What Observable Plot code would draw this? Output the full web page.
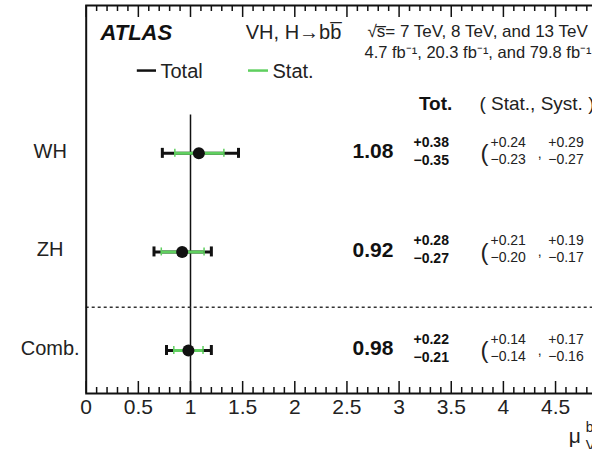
<!DOCTYPE html>
<html><head><meta charset="utf-8">
<script src="https://cdn.jsdelivr.net/npm/d3@7"></script>
<script src="https://cdn.jsdelivr.net/npm/@observablehq/plot@0.6"></script>
<style>html,body{margin:0;padding:0;overflow:hidden;background:#fff}</style>
</head><body><div id="chart"></div>
<script>
// ---- data ----
const categories = ["WH", "ZH", "Comb."];
const mu     = [1.08, 0.92, 0.98];
const totUp  = [0.38, 0.28, 0.22];
const totDn  = [0.35, 0.27, 0.21];
const statUp = [0.24, 0.21, 0.14];
const statDn = [0.23, 0.20, 0.14];
const systUp = [0.29, 0.19, 0.17];
const systDn = [0.27, 0.17, 0.16];
const xTickLabels = [0, 0.5, 1, 1.5, 2, 2.5, 3, 3.5, 4, 4.5];
const xMajorTicks = [0, 0.5, 1, 1.5, 2, 2.5, 3, 3.5, 4, 4.5, 5];

const rows = categories.map((c, i) => ({
  cat: c, pos: categories.length - 1 - i, mu: mu[i],
  tu: totUp[i], td: totDn[i], su: statUp[i], sd: statDn[i], yu: systUp[i], yd: systDn[i]
}));
const fmt = v => v.toFixed(2);
const minus = v => "\u2212" + fmt(v);
const plus = v => "+" + fmt(v);

const W = 640, H = 449, mL = 85.7, mR = 32.8, mT = 5, mB = 56;
const plotH = H - mT - mB;
const yLo = -0.436, yHi = 3.5;
const minor = d3.range(0, 51).map(i => i / 10).filter(v => Math.abs(v * 2 - Math.round(v * 2)) > 1e-6);
const major = xMajorTicks;
const green = "#5fcf5f";
const ink = "#111";
const font = "'Liberation Sans', Arial, Helvetica, sans-serif";
const la = "middle";

const chart = Plot.plot({
  width: W, height: H,
  marginLeft: mL, marginRight: mR, marginTop: mT, marginBottom: mB,
  x: {domain: [0, 5], axis: null},
  y: {domain: [yLo, yHi], axis: null},
  style: {fontFamily: font, color: ink, background: "#fff", overflow: "visible", maxWidth: "none"},
  marks: [
    // reference line at mu = 1
    Plot.ruleX([1], {y1: yLo, y2: 2.39, stroke: ink, strokeWidth: 1.5}),
    // separator
    Plot.ruleY([0.44], {stroke: "#333", strokeWidth: 1.5, strokeDasharray: "3,3"}),
    // total error bars
    Plot.ruleY(rows, {y: "pos", x1: d => d.mu - d.td, x2: d => d.mu + d.tu, stroke: ink, strokeWidth: 3}),
    Plot.ruleX(rows, {x: d => d.mu - d.td, y1: "pos", y2: "pos", insetTop: -5, insetBottom: -5, stroke: ink, strokeWidth: 3}),
    Plot.ruleX(rows, {x: d => d.mu + d.tu, y1: "pos", y2: "pos", insetTop: -5, insetBottom: -5, stroke: ink, strokeWidth: 3}),
    // stat error bars
    Plot.ruleY(rows, {y: "pos", x1: d => d.mu - d.sd, x2: d => d.mu + d.su, stroke: green, strokeWidth: 3}),
    Plot.ruleX(rows, {x: d => d.mu - d.sd, y1: "pos", y2: "pos", insetTop: -4, insetBottom: -4, stroke: green, strokeWidth: 1.5}),
    Plot.ruleX(rows, {x: d => d.mu + d.su, y1: "pos", y2: "pos", insetTop: -4, insetBottom: -4, stroke: green, strokeWidth: 1.5}),
    // central values
    Plot.dot(rows, {x: "mu", y: "pos", r: 6, fill: ink, stroke: "none"}),
    // frame and ticks
    Plot.frame({stroke: ink, strokeWidth: 2}),
    Plot.ruleX(minor, {x: d => d, insetTop: plotH - 6, stroke: ink, strokeWidth: 1.5}),
    Plot.ruleX(major, {x: d => d, insetTop: plotH - 12, stroke: ink, strokeWidth: 1.5}),
    Plot.ruleX(minor, {x: d => d, insetBottom: plotH - 6, stroke: ink, strokeWidth: 1.5}),
    Plot.ruleX(major, {x: d => d, insetBottom: plotH - 12, stroke: ink, strokeWidth: 1.5}),
    Plot.text(xTickLabels, {x: d => d, text: d => String(d), frameAnchor: "bottom", lineAnchor: la, dy: 14, fontSize: 21, fill: "#222"}),
    // axis title (mu^{bb}_{VH})
    Plot.text(["\u03bc"], {x: 4.627, frameAnchor: "bottom", lineAnchor: la, dy: 43, textAnchor: "start", fontSize: 21, fill: "#222"}),
    Plot.text(["bb\u0305"], {x: 4.79, frameAnchor: "bottom", lineAnchor: la, dy: 34, textAnchor: "start", fontSize: 14, fill: "#222"}),
    Plot.text(["VH"], {x: 4.79, frameAnchor: "bottom", lineAnchor: la, dy: 52, textAnchor: "start", fontSize: 14, fill: "#222"}),
    // row labels
    Plot.text(rows, {y: "pos", text: "cat", frameAnchor: "left", dx: -36, dy: -2, textAnchor: "middle", fontSize: 20, fill: "#222"}),
    // numbers
    Plot.text(rows, {x: 2.946, y: "pos", text: d => fmt(d.mu), textAnchor: "end", dy: -2, fontSize: 21, fontWeight: "bold", fill: ink}),
    Plot.text(rows, {x: 3.138, y: "pos", text: d => plus(d.tu), textAnchor: "start", dy: -11, fontSize: 14, fontWeight: "bold", fill: ink}),
    Plot.text(rows, {x: 3.138, y: "pos", text: d => minus(d.td), textAnchor: "start", dy: 7, fontSize: 14, fontWeight: "bold", fill: ink}),
    Plot.text(rows, {x: 3.78, y: "pos", text: () => "(", textAnchor: "start", dy: 0, fontSize: 24, fill: "#222"}),
    Plot.text(rows, {x: 3.876, y: "pos", text: d => plus(d.su), textAnchor: "start", dy: -11, fontSize: 14, fill: "#222"}),
    Plot.text(rows, {x: 3.876, y: "pos", text: d => minus(d.sd), textAnchor: "start", dy: 6, fontSize: 14, fill: "#222"}),
    Plot.text(rows, {x: 4.33, y: "pos", text: () => ",", textAnchor: "start", dy: 0, fontSize: 14, fill: "#222"}),
    Plot.text(rows, {x: 4.43, y: "pos", text: d => plus(d.yu), textAnchor: "start", dy: -11, fontSize: 14, fill: "#222"}),
    Plot.text(rows, {x: 4.43, y: "pos", text: d => minus(d.yd), textAnchor: "start", dy: 6, fontSize: 14, fill: "#222"}),
    // header
    Plot.text(["Tot."], {x: 3.19, frameAnchor: "top", lineAnchor: la, dy: 98.5, textAnchor: "start", fontSize: 19, fontWeight: "bold", fill: ink}),
    Plot.text(["( Stat., Syst. )"], {x: 3.77, frameAnchor: "top", lineAnchor: la, dy: 98.5, textAnchor: "start", fontSize: 19, fill: "#222"}),
    // titles
    Plot.text(["ATLAS"], {x: 0.137, frameAnchor: "top", lineAnchor: la, dy: 27, textAnchor: "start", fontSize: 22, fontWeight: "bold", fontStyle: "italic", fill: ink}),
    Plot.text(["VH, H\u2192bb\u0305"], {x: 1.53, frameAnchor: "top", lineAnchor: la, dy: 27, textAnchor: "start", fontSize: 20, fill: "#222"}),
    Plot.text(["\u221as\u0305= 7 TeV, 8 TeV, and 13 TeV"], {x: 2.697, frameAnchor: "top", lineAnchor: la, dy: 26, textAnchor: "start", fontSize: 17, fill: "#222"}),
    Plot.text(["4.7 fb\u207b\u00b9, 20.3 fb\u207b\u00b9, and 79.8 fb\u207b\u00b9"], {x: 2.668, frameAnchor: "top", lineAnchor: la, dy: 47, textAnchor: "start", fontSize: 16.5, fill: "#222"}),
    // legend
    Plot.ruleY([2.84], {x1: 0.49, x2: 0.674, stroke: ink, strokeWidth: 2.5}),
    Plot.text(["Total"], {x: 0.712, frameAnchor: "top", lineAnchor: la, dy: 66, textAnchor: "start", fontSize: 20, fill: "#222"}),
    Plot.ruleY([2.84], {x1: 1.556, x2: 1.748, stroke: green, strokeWidth: 2.5}),
    Plot.text(["Stat."], {x: 1.786, frameAnchor: "top", lineAnchor: la, dy: 66, textAnchor: "start", fontSize: 20, fill: "#222"})
  ]
});
chart.style.maxWidth = "none";
chart.style.width = W + "px";
chart.style.height = H + "px";
document.getElementById("chart").appendChild(chart);
</script>
</body></html>
